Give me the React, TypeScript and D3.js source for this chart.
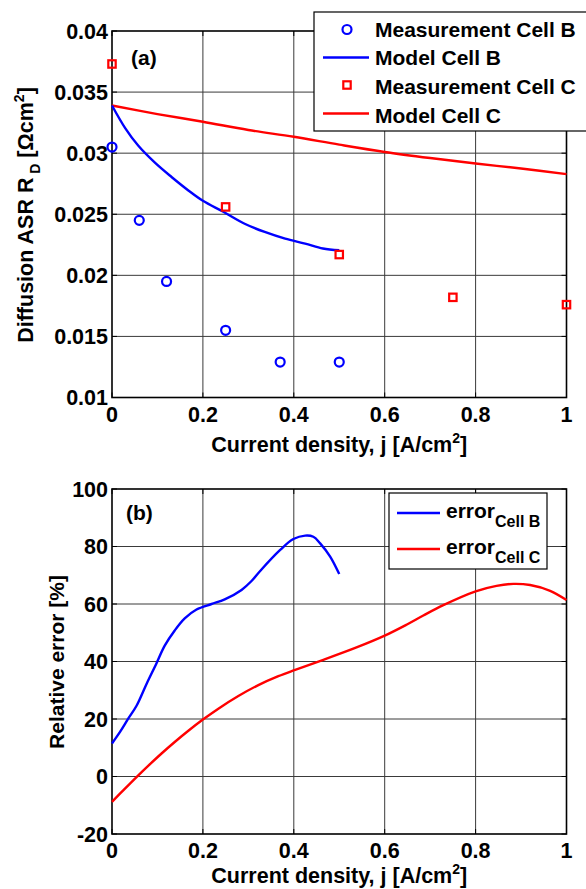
import React from "react";
import * as d3 from "d3";

// ---- Data ----
const measBj = [0, 0.06, 0.12, 0.25, 0.37, 0.5];
const measBR = [0.0305, 0.0245, 0.0195, 0.0155, 0.0129, 0.0129];
const measCj = [0, 0.25, 0.5, 0.75, 1.0];
const measCR = [0.0373, 0.0256, 0.0217, 0.0182, 0.0176];

const modelBj = [0, 0.029, 0.058, 0.095, 0.131, 0.168, 0.2, 0.245, 0.293, 0.336, 0.381, 0.425, 0.464, 0.5];
const modelBR = [0.0339, 0.03205, 0.0306, 0.0292, 0.02805, 0.02695, 0.0261, 0.0252, 0.0242, 0.02355, 0.023, 0.0226, 0.0222, 0.02205];
const modelCj = [0, 0.1, 0.2, 0.3, 0.4, 0.5, 0.6, 0.7, 0.8, 0.9, 1.0];
const modelCR = [0.0339, 0.0332, 0.03257, 0.0319, 0.03134, 0.0307, 0.0301, 0.0296, 0.02915, 0.02875, 0.02828];

const errBj = [0, 0.018, 0.036, 0.054, 0.076, 0.098, 0.116, 0.138, 0.16, 0.186, 0.219, 0.248, 0.285, 0.307, 0.326, 0.37, 0.399, 0.425, 0.443, 0.458, 0.48, 0.5];
const errB = [11.5, 15.6, 20.2, 24.6, 32.2, 39.4, 45.5, 50.8, 55, 58.1, 60, 61.6, 64.9, 68.0, 71.5, 78.8, 82.6, 83.8, 83.4, 81.1, 76.5, 70.4];
const errCj = [0, 0.028, 0.054, 0.079, 0.109, 0.138, 0.168, 0.2, 0.234, 0.278, 0.322, 0.366, 0.403, 0.465, 0.538, 0.6, 0.648, 0.685, 0.729, 0.8, 0.846, 0.883, 0.92, 0.964, 1.0];
const errC = [-8.8, -4.3, -0.2, 3.6, 8.0, 12.0, 15.9, 19.8, 23.6, 28.0, 31.8, 34.9, 37.1, 40.6, 44.9, 49, 52.8, 56, 59.6, 64.4, 66.3, 67.0, 66.6, 64.6, 61.4];

const xTicks = [0, 0.2, 0.4, 0.6, 0.8, 1];
const xTickLabels = ["0", "0.2", "0.4", "0.6", "0.8", "1"];
const yTicksA = [0.01, 0.015, 0.02, 0.025, 0.03, 0.035, 0.04];
const yTickLabelsA = ["0.01", "0.015", "0.02", "0.025", "0.03", "0.035", "0.04"];
const yTicksB = [-20, 0, 20, 40, 60, 80, 100];
const yTickLabelsB = ["-20", "0", "20", "40", "60", "80", "100"];
const legendA = ["Measurement Cell B", "Model Cell B", "Measurement Cell C", "Model Cell C"];
const legendBSub = ["Cell B", "Cell C"];

const FONT = "'Liberation Sans', Arial, Helvetica, sans-serif";
const BLUE = "#0000ff";
const RED = "#ff0000";
const GRID = "#3a3a3a";

const L = 112, R = 566.5;
const xA = d3.scaleLinear().domain([0, 1]).range([L, R]);
const yA = d3.scaleLinear().domain([0.01, 0.04]).range([397.5, 31]);
const xB = d3.scaleLinear().domain([0, 1]).range([L, R]);
const yB = d3.scaleLinear().domain([-20, 100]).range([834, 489]);

function Axes({ x, y, yTicks, yLabels }: any) {
  const [y0, y1] = y.range();
  const top = Math.min(y0, y1), bot = Math.max(y0, y1);
  const tl = 5;
  return (
    <g>
      {xTicks.slice(1, -1).map((t, i) => (
        <line key={"gx" + i} x1={x(t)} x2={x(t)} y1={top} y2={bot} stroke={GRID} strokeWidth={1} />
      ))}
      {yTicks.slice(1, -1).map((t: number, i: number) => (
        <line key={"gy" + i} x1={L} x2={R} y1={y(t)} y2={y(t)} stroke={GRID} strokeWidth={1} />
      ))}
      {xTicks.map((t, i) => (
        <g key={"tx" + i}>
          <line x1={x(t)} x2={x(t)} y1={bot} y2={bot - tl} stroke="#000" />
          <line x1={x(t)} x2={x(t)} y1={top} y2={top + tl} stroke="#000" />
        </g>
      ))}
      {yTicks.map((t: number, i: number) => (
        <g key={"ty" + i}>
          <line x1={L} x2={L + tl} y1={y(t)} y2={y(t)} stroke="#000" />
          <line x1={R} x2={R - tl} y1={y(t)} y2={y(t)} stroke="#000" />
        </g>
      ))}
      <rect x={L} y={top} width={R - L} height={bot - top} fill="none" stroke="#000" strokeWidth={1.6} />
      {xTicks.map((t, i) => (
        <text key={"lx" + i} x={x(t)} y={bot + 24} textAnchor="middle" fontFamily={FONT} fontWeight="bold" fontSize={21.5}>
          {xTickLabels[i]}
        </text>
      ))}
      {yTicks.map((t: number, i: number) => (
        <text key={"ly" + i} x={L - 4} y={y(t) + 7.5} textAnchor="end" fontFamily={FONT} fontWeight="bold" fontSize={21.5}>
          {yLabels[i]}
        </text>
      ))}
    </g>
  );
}

export default function App() {
  const curve = d3.curveCatmullRom.alpha(0.5);
  const lineA = (js: number[], vs: number[]) =>
    d3.line<number>().x((d) => xA(d)).y((_, i) => yA(vs[i])).curve(curve)(js) || "";
  const lineB = (js: number[], vs: number[]) =>
    d3.line<number>().x((d) => xB(d)).y((_, i) => yB(vs[i])).curve(curve)(js) || "";

  return (
    <svg width={586} height={889} style={{ position: "absolute", left: 0, top: 0, background: "#fff" }}>
      <rect x={0} y={0} width={586} height={889} fill="#fff" />
      {/* ---------- Plot (a) ---------- */}
      <Axes x={xA} y={yA} yTicks={yTicksA} yLabels={yTickLabelsA} />
      <path d={lineA(modelCj, modelCR)} fill="none" stroke={RED} strokeWidth={2.4} />
      <path d={lineA(modelBj, modelBR)} fill="none" stroke={BLUE} strokeWidth={2.4} />
      {measBj.map((j, i) => (
        <circle key={"mb" + i} cx={xA(j)} cy={yA(measBR[i])} r={4.5} fill="none" stroke={BLUE} strokeWidth={2.2} />
      ))}
      {measCj.map((j, i) => (
        <rect key={"mc" + i} x={xA(j) - 3.7} y={yA(measCR[i]) - 3.7} width={7.4} height={7.4} fill="none" stroke={RED} strokeWidth={2.2} />
      ))}
      <text x={131} y={65} fontFamily={FONT} fontWeight="bold" fontSize={21}>(a)</text>
      <text x={xA(0.5)} y={452} textAnchor="middle" fontFamily={FONT} fontWeight="bold" fontSize={21.5}>
        Current density, j [A/cm<tspan fontSize={14} dy={-9}>2</tspan><tspan dy={9}>]</tspan>
      </text>
      <text transform="translate(33,215) rotate(-90)" textAnchor="middle" fontFamily={FONT} fontWeight="bold" fontSize={21.5}>
        Diffusion ASR R<tspan fontSize={14} dy={7}> D</tspan><tspan dy={-7}> [Ωcm</tspan><tspan fontSize={14} dy={-9}>2</tspan><tspan dy={9}>]</tspan>
      </text>
      {/* legend (a) */}
      <g>
        <rect x={314} y={12} width={290} height={119} fill="#fff" stroke="#000" strokeWidth={1.2} />
        <circle cx={347} cy={29.5} r={4.5} fill="none" stroke={BLUE} strokeWidth={2.2} />
        <line x1={323} x2={369} y1={57.5} y2={57.5} stroke={BLUE} strokeWidth={2.4} />
        <rect x={347 - 3.7} y={85 - 3.7} width={7.4} height={7.4} fill="none" stroke={RED} strokeWidth={2.2} />
        <line x1={323} x2={369} y1={113.5} y2={113.5} stroke={RED} strokeWidth={2.4} />
        {legendA.map((s, i) => (
          <text key={"lg" + i} x={375} y={36.5 + i * 28.8} fontFamily={FONT} fontWeight="bold" fontSize={21}>{s}</text>
        ))}
      </g>

      {/* ---------- Plot (b) ---------- */}
      <Axes x={xB} y={yB} yTicks={yTicksB} yLabels={yTickLabelsB} />
      <path d={lineB(errCj, errC)} fill="none" stroke={RED} strokeWidth={2.4} />
      <path d={lineB(errBj, errB)} fill="none" stroke={BLUE} strokeWidth={2.4} />
      <text x={126} y={520} fontFamily={FONT} fontWeight="bold" fontSize={21}>(b)</text>
      <text x={xB(0.5)} y={882.5} textAnchor="middle" fontFamily={FONT} fontWeight="bold" fontSize={21.5}>
        Current density, j [A/cm<tspan fontSize={14} dy={-9}>2</tspan><tspan dy={9}>]</tspan>
      </text>
      <text transform="translate(64,662) rotate(-90)" textAnchor="middle" fontFamily={FONT} fontWeight="bold" fontSize={21}>
        Relative error [%]
      </text>
      {/* legend (b) */}
      <g>
        <rect x={389} y={493} width={158} height={76} fill="#fff" stroke="#000" strokeWidth={1.2} />
        <line x1={397} x2={440} y1={513} y2={513} stroke={BLUE} strokeWidth={2.4} />
        <line x1={397} x2={440} y1={549} y2={549} stroke={RED} strokeWidth={2.4} />
        {legendBSub.map((s, i) => (
          <text key={"lb" + i} x={446} y={518 + i * 36} fontFamily={FONT} fontWeight="bold" fontSize={21}>
            error<tspan fontSize={16} dy={9}>{s}</tspan>
          </text>
        ))}
      </g>
    </svg>
  );
}
